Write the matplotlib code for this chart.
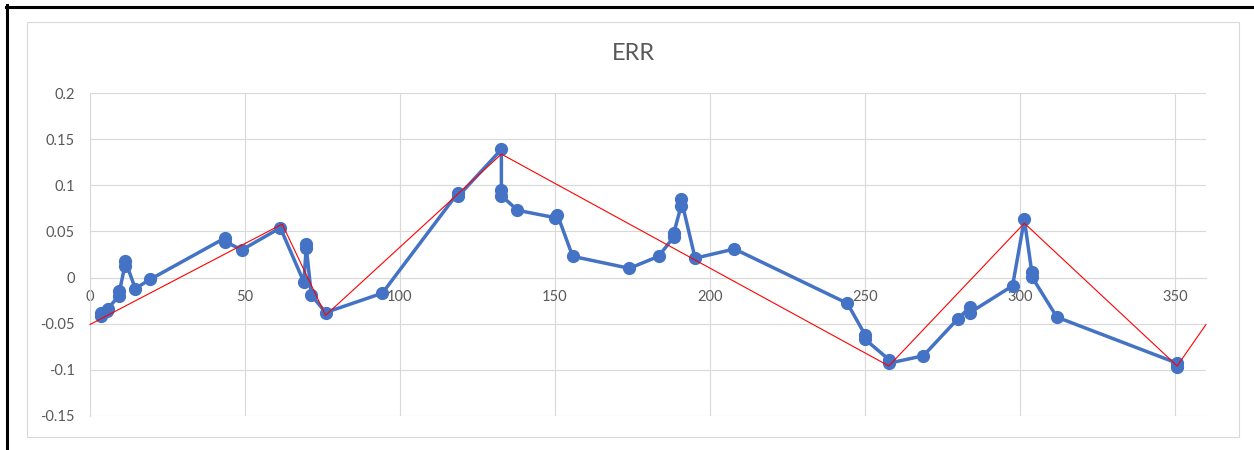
import matplotlib
matplotlib.use("Agg")
import matplotlib.pyplot as plt
from matplotlib.lines import Line2D
from matplotlib.patches import Rectangle

# Blue series (ERR measurements)
err_x = [3.4, 3.6, 5.4, 5.7, 9.3, 9.5, 11.2, 11.4, 14.6, 19.4,
         43.6, 43.6, 49.0, 61.4, 69.0, 69.8, 69.8, 71.4, 76.0, 94.3,
         118.7, 118.7, 132.7, 132.7, 132.7, 137.9, 150.0, 150.8, 155.7, 174.0,
         183.4, 188.3, 188.3, 190.7, 190.7, 195.2, 207.9, 244.3, 250.0, 250.0,
         257.7, 257.7, 268.8, 279.9, 283.9, 283.9, 297.6, 301.4, 303.8, 303.8,
         311.9, 350.7, 350.7]
err_y = [-0.042, -0.039, -0.036, -0.034, -0.020, -0.015, 0.012, 0.018, -0.012, -0.002,
         0.043, 0.039, 0.030, 0.054, -0.005, 0.036, 0.032, -0.019, -0.038, -0.017,
         0.092, 0.088, 0.139, 0.095, 0.089, 0.073, 0.065, 0.068, 0.023, 0.010,
         0.023, 0.044, 0.048, 0.078, 0.085, 0.021, 0.031, -0.028, -0.062, -0.067,
         -0.089, -0.093, -0.085, -0.045, -0.032, -0.038, -0.009, 0.063, 0.006, 0.001,
         -0.043, -0.093, -0.097]

# Red piecewise-linear fit
fit_x = [0, 62.0, 76.0, 132.7, 257.7, 301.4, 350.7, 360]
fit_y = [-0.051, 0.058, -0.041, 0.134, -0.096, 0.059, -0.096, -0.051]

title = "ERR"
x_ticks = [0, 50, 100, 150, 200, 250, 300, 350]
y_ticks = [-0.15, -0.1, -0.05, 0, 0.05, 0.1, 0.15, 0.2]
y_labels = ["-0.15", "-0.1", "-0.05", "0", "0.05", "0.1", "0.15", "0.2"]

plt.rcParams['font.family'] = ['Lato', 'DejaVu Sans']
W, H = 1254, 450
fig = plt.figure(figsize=(W / 100, H / 100), dpi=100)

# Outer black frame (top and left) and light chart-area border
fig.add_artist(Line2D([6 / W, 1], [1 - 6.5 / H, 1 - 6.5 / H], color='black', lw=2.2, transform=fig.transFigure))
fig.add_artist(Line2D([7 / W, 7 / W], [0, 1 - 5 / H], color='black', lw=2.2, transform=fig.transFigure))
fig.add_artist(Rectangle((27 / W, 1 - 437 / H), (1239 - 27) / W, (437 - 22) / H,
                         transform=fig.transFigure, fill=False, ec='#d9d9d9', lw=0.8))

ax = fig.add_axes([90 / W, 1 - 415.7 / H, (1206 - 90) / W, (415.7 - 93.3) / H])
ax.set_xlim(0, 360)
ax.set_ylim(-0.15, 0.2)

grid_c = '#d9d9d9'
ax.set_xticks(x_ticks)
ax.set_yticks(y_ticks)
ax.set_yticklabels(y_labels)
ax.grid(True, color=grid_c, lw=0.8)
ax.set_axisbelow(True)

for s in ['top', 'right']:
    ax.spines[s].set_visible(False)
ax.spines['bottom'].set_position(('data', 0))
ax.spines['bottom'].set_color(grid_c)
ax.spines['left'].set_color(grid_c)
ax.spines['bottom'].set_linewidth(0.8)
ax.spines['left'].set_linewidth(0.8)
ax.tick_params(axis='x', length=0, pad=9, labelsize=10.5, labelcolor='#595959')
ax.tick_params(axis='y', length=0, pad=11, labelsize=10.5, labelcolor='#595959')

ax.plot(err_x, err_y, color='#4472C4', lw=2.5, marker='o', ms=8.5,
        mfc='#4472C4', mec='#4472C4', zorder=3, clip_on=False)
ax.plot(fit_x, fit_y, color='red', lw=0.8, zorder=4, clip_on=False)

fig.text(633 / W, 1 - 54 / H, title, ha='center', va='center', fontsize=17, color='#595959')

fig.savefig('out.png', dpi=100)
